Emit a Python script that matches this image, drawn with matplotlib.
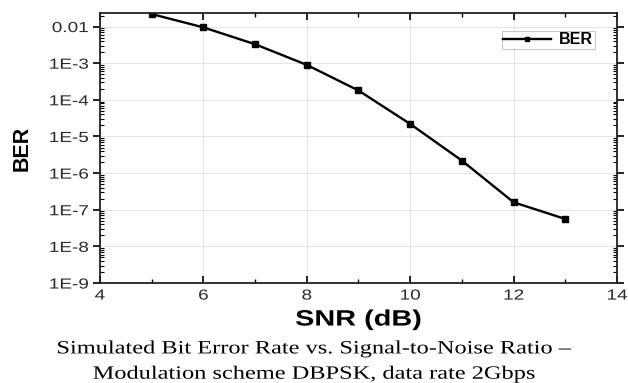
import matplotlib
matplotlib.use("Agg")
import matplotlib.pyplot as plt
from matplotlib.ticker import LogLocator, FixedLocator, MultipleLocator
from matplotlib.patheffects import AbstractPathEffect
from matplotlib.transforms import Affine2D

snr = [5, 6, 7, 8, 9, 10, 11, 12, 13]
ber = [2.2e-2, 9.5e-3, 3.3e-3, 9.0e-4, 1.8e-4, 2.2e-5, 2.2e-6, 1.6e-7, 5.6e-8]
ytick_vals = [1e-9, 1e-8, 1e-7, 1e-6, 1e-5, 1e-4, 1e-3, 1e-2]
ytick_labels = ["1E-9", "1E-8", "1E-7", "1E-6", "1E-5", "1E-4", "1E-3", "0.01"]


# the source picture is squeezed wider than tall, so text gets a horizontal stretch
class HStretch(AbstractPathEffect):
    def __init__(self, sx, anchor="center"):
        super().__init__()
        self.sx = sx
        self.anchor = anchor

    def draw_path(self, renderer, gc, tpath, affine, rgbFace=None):
        xy = affine.transform(tpath.vertices)
        if len(xy) == 0:
            return
        x0, x1 = xy[:, 0].min(), xy[:, 0].max()
        cx = {"left": x0, "right": x1, "center": (x0 + x1) / 2}[self.anchor]
        t = affine + Affine2D().translate(-cx, 0).scale(self.sx, 1).translate(cx, 0)
        renderer.draw_path(gc, tpath, t, rgbFace)


plt.rcParams["font.family"] = ["Liberation Sans", "DejaVu Sans"]

fig = plt.figure(figsize=(6.28, 3.83), dpi=100)
ax = fig.add_axes([0.159, 0.261, 0.8235, 0.705])

ax.plot(snr, ber, color="black", lw=1.7, marker="s", ms=5, label="BER")
ax.set_yscale("log")
ax.set_xlim(4, 14)
ax.set_ylim(1e-9, 0.0234)

ax.xaxis.set_major_locator(MultipleLocator(2))
ax.xaxis.set_minor_locator(MultipleLocator(1))
ax.yaxis.set_major_locator(FixedLocator(ytick_vals))
ax.set_yticklabels(ytick_labels)
ax.yaxis.set_minor_locator(LogLocator(base=10, subs=range(2, 10), numticks=20))

ax.grid(True, which="major", color="#e6e6e6", lw=0.8)
ax.set_axisbelow(True)

ax.tick_params(axis="y", which="major", direction="out", length=5, width=1.2,
               labelsize=10.5, right=True, labelcolor="#2a2a2a", pad=3)
ax.tick_params(axis="y", which="minor", direction="in", length=3, width=0.8, right=True)
ax.tick_params(axis="x", which="major", direction="in", length=5, width=1.2,
               labelsize=10.5, top=True, labelcolor="#2a2a2a", pad=4)
ax.tick_params(axis="x", which="minor", direction="in", length=3, width=1.0, top=True)
for s in ax.spines.values():
    s.set_linewidth(1.3)
    s.set_color("#222222")

for lbl in ax.get_xticklabels():
    lbl.set_path_effects([HStretch(1.3, "center")])
for lbl in ax.get_yticklabels():
    lbl.set_path_effects([HStretch(1.3, "right")])

xl = ax.set_xlabel("SNR (dB)", fontsize=16, fontweight="bold", labelpad=5)
xl.set_path_effects([HStretch(1.3, "center")])
ax.set_ylabel("BER", fontsize=15.5, fontweight="bold")
ax.yaxis.set_label_coords(-0.13, 0.5)

leg = ax.legend(loc="upper right", bbox_to_anchor=(0.958, 0.935),
                prop={"weight": "bold", "size": 11.5}, fancybox=False,
                edgecolor="#bbbbbb", handlelength=3.0, borderpad=0.12,
                handletextpad=0.5, markerscale=0.7, borderaxespad=0)
leg.get_frame().set_linewidth(0.8)

c1 = fig.text(0.5, 0.089, "Simulated Bit Error Rate vs. Signal-to-Noise Ratio \u2013",
              ha="center", va="center", fontsize=13.5, family="Liberation Serif")
c2 = fig.text(0.5, 0.023, "Modulation scheme DBPSK, data rate 2Gbps",
              ha="center", va="center", fontsize=13.5, family="Liberation Serif")
c1.set_path_effects([HStretch(1.3, "center")])
c2.set_path_effects([HStretch(1.3, "center")])

fig.savefig("out.png", dpi=100)
